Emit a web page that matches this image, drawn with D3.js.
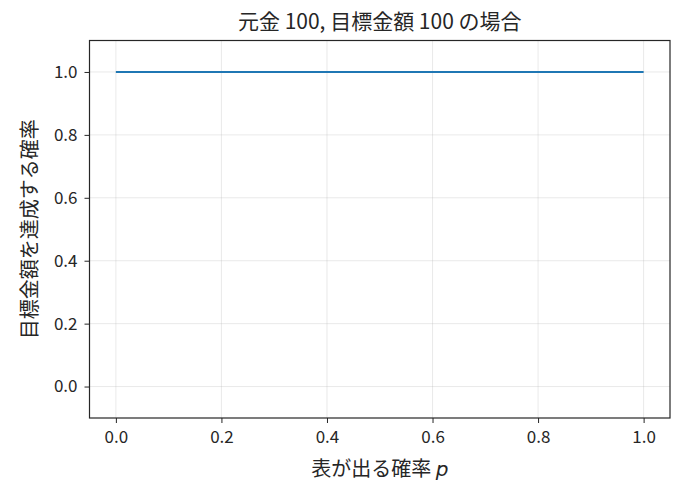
<!DOCTYPE html>
<html>
<head>
<meta charset="utf-8">
<script src="https://cdn.jsdelivr.net/npm/d3@7"></script>
<style>
  body { margin: 0; background: #fff; }
  text { font-family: "Noto Sans CJK JP", "Noto Sans", sans-serif; fill: #262626; }
</style>
</head>
<body>
<svg id="chart" width="682" height="495"></svg>
<script>
// probability of heads p, and probability of reaching the target amount
const pValues = [0.0, 0.1, 0.2, 0.3, 0.4, 0.5, 0.6, 0.7, 0.8, 0.9, 1.0];
const successProb = [1, 1, 1, 1, 1, 1, 1, 1, 1, 1, 1];
const xTicks = [0.0, 0.2, 0.4, 0.6, 0.8, 1.0];
const yTicks = [0.0, 0.2, 0.4, 0.6, 0.8, 1.0];

const titleText = "元金 100, 目標金額 100 の場合";
const xLabelText = "表が出る確率 ";
const yLabelText = "目標金額を達成する確率";

const margin = {top: 40.5, right: 12, bottom: 77, left: 89.5};
const width = 682, height = 495;

const svg = d3.select("#chart");

// scales, matplotlib style 5% padding on x, fixed y limits
let x = d3.scaleLinear().domain([-0.05, 1.05]).range([margin.left, width - margin.right]);
let y = d3.scaleLinear().domain([-0.1, 1.1]).range([height - margin.bottom, margin.top]);

// grid
const grid = svg.append("g");
grid.selectAll(".vgrid").data(xTicks).enter().append("line")
    .attr("x1", d => x(d)).attr("x2", d => x(d))
    .attr("y1", margin.top).attr("y2", height - margin.bottom)
    .style("stroke", "#b0b0b0").style("stroke-opacity", 0.35).style("stroke-width", 0.8);
grid.selectAll(".hgrid").data(yTicks).enter().append("line")
    .attr("y1", d => y(d)).attr("y2", d => y(d))
    .attr("x1", margin.left).attr("x2", width - margin.right)
    .style("stroke", "#b0b0b0").style("stroke-opacity", 0.35).style("stroke-width", 0.8);

// line
const line = d3.line().x((d, i) => x(pValues[i])).y(d => y(d));
svg.append("path")
    .datum(successProb)
    .attr("d", line)
    .style("fill", "none")
    .style("stroke", "#1f77b4")
    .style("stroke-width", 2);

// axes
const xAxis = svg.append("g")
    .attr("transform", "translate(0," + (height - margin.bottom) + ")")
    .call(d3.axisBottom(x).tickValues(xTicks).tickFormat(d3.format(".1f")).tickSize(5).tickPadding(8).tickSizeOuter(0));
const yAxis = svg.append("g")
    .attr("transform", "translate(" + margin.left + ",0)")
    .call(d3.axisLeft(y).tickValues(yTicks).tickFormat(d3.format(".1f")).tickSize(5).tickPadding(7).tickSizeOuter(0));

[xAxis, yAxis].forEach(a => {
    a.select(".domain").remove();
    a.selectAll("line").style("stroke", "#262626").style("stroke-width", 1);
    a.selectAll("text").style("font-size", "17px")
        .style("font-family", "'Noto Sans CJK JP', sans-serif").style("fill", "#262626");
});

// frame
svg.append("rect")
    .attr("x", margin.left).attr("y", margin.top)
    .attr("width", width - margin.left - margin.right)
    .attr("height", height - margin.top - margin.bottom)
    .style("fill", "none").style("stroke", "#262626").style("stroke-width", 1.2);

// title
svg.append("text")
    .attr("x", (margin.left + width - margin.right) / 2)
    .attr("y", 29)
    .attr("text-anchor", "middle")
    .style("font-size", "21px")
    .text(titleText);

// x label
const xl = svg.append("text")
    .attr("x", (margin.left + width - margin.right) / 2)
    .attr("y", 476)
    .attr("text-anchor", "middle")
    .style("font-size", "20px")
    .text(xLabelText);
xl.append("tspan")
    .style("font-family", "'DejaVu Sans', sans-serif")
    .style("font-style", "italic")
    .text("p");

// y label
svg.append("text")
    .attr("transform", "translate(37," + ((margin.top + height - margin.bottom) / 2) + ") rotate(-90)")
    .attr("text-anchor", "middle")
    .style("font-size", "20px")
    .text(yLabelText);
</script>
</body>
</html>
